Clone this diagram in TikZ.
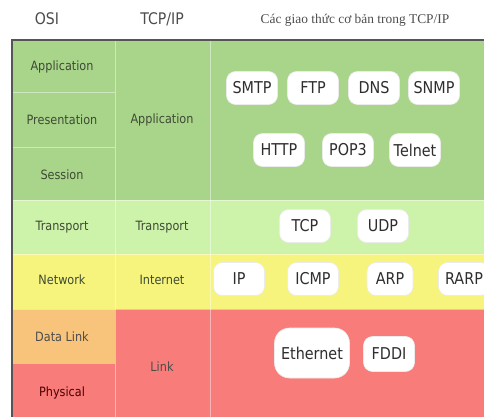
\documentclass[tikz,border=0pt]{standalone}
\usepackage{fontspec}
\newfontfamily\cellfont[FakeStretch=0.88]{DejaVu Sans}
\newfontfamily\titlefont{Liberation Serif}
\definecolor{appgreen}{HTML}{A9D58B}
\definecolor{trgreen}{HTML}{CDF2AA}
\definecolor{netyellow}{HTML}{F6F47C}
\definecolor{dlorange}{HTML}{F8C47B}
\definecolor{linkred}{HTML}{F87C79}
\definecolor{frame}{HTML}{555555}
\definecolor{celltext}{HTML}{3E4A34}
\definecolor{pilltext}{HTML}{2E2E2E}
\tikzset{
  header/.style={font=\cellfont\fontsize{16}{18}\selectfont, text=black!70, inner sep=0},
  cell/.style={font=\cellfont\fontsize{12.8}{14}\selectfont, text=celltext, inner sep=0},
  pill/.style={fill=white, draw=black!8, line width=0.6pt, rounded corners=9pt,
    minimum width=51pt, minimum height=33pt, inner sep=0,
    font=\cellfont\fontsize{16.3}{18}\selectfont, text=pilltext},
  sep/.style={draw=white, draw opacity=0.45, line width=1pt},
}
\begin{document}
\begin{tikzpicture}[x=1pt, y=-1pt]
\useasboundingbox (0,0) rectangle (484,417);
% layer bands
\fill[appgreen] (12,40) rectangle (484,200);
\fill[trgreen] (12,200) rectangle (484,254);
\fill[netyellow] (12,254) rectangle (484,309);
\fill[dlorange] (12,309) rectangle (115,363);
\fill[linkred] (12,363) rectangle (115,417);
\fill[linkred] (115,309) rectangle (484,417);
% cell separators
\draw[sep] (115,40) -- (115,417);
\draw[sep] (210,40) -- (210,417);
\draw[sep] (12,93) -- (115,93);
\draw[sep] (12,147) -- (115,147);
\draw[sep] (12,200) -- (484,200);
\draw[sep] (12,254) -- (484,254);
\draw[sep] (12,309) -- (484,309);
\draw[sep] (12,363) -- (115,363);
% outer frame
\draw[frame, line width=2pt] (12,417) -- (12,40) -- (484,40);
% column headings
\node[header] (hosi) at (47,19) {OSI};
\node[header] (htcp) at (162,19) {TCP/IP};
\node[inner sep=0, text=black!70, font=\titlefont\fontsize{13.4}{15}\selectfont] (hproto) at (355,20) {Các giao thức cơ bản trong TCP/IP};
% OSI layers
\node[cell] (osiapp) at (62,67) {Application};
\node[cell] (osipres) at (62,120) {Presentation};
\node[cell] (osises) at (62,175) {Session};
\node[cell] (ositr) at (62,227) {Transport};
\node[cell] (osinet) at (62,280) {Network};
\node[cell, text=black!70] (osidl) at (62,337) {Data Link};
\node[cell, text=black!70!red] (osiphy) at (62,393) {Physical};
% TCP/IP layers
\node[cell] (tapp) at (162,120) {Application};
\node[cell] (ttr) at (162,227) {Transport};
\node[cell] (tnet) at (162,280) {Internet};
\node[cell, text=black!70] (tlink) at (162,367) {Link};
% protocols
\node[pill] (smtp) at (252,88) {SMTP};
\node[pill] (ftp) at (313,88) {FTP};
\node[pill] (dns) at (374,88) {DNS};
\node[pill] (snmp) at (434,88) {SNMP};
\node[pill] (http) at (279,150) {HTTP};
\node[pill] (pop) at (348,150) {POP3};
\node[pill] (telnet) at (415,150) {Telnet};
\node[pill] (tcp) at (305,226) {TCP};
\node[pill] (udp) at (383,226) {UDP};
\node[pill] (ip) at (239,279) {IP};
\node[pill] (icmp) at (313,279) {ICMP};
\node[pill, minimum width=46pt] (arp) at (390,279) {ARP};
\node[pill] (rarp) at (464,279) {RARP};
\node[pill, minimum width=75pt, minimum height=50pt, rounded corners=15pt] (eth) at (312,353) {Ethernet};
\node[pill, minimum height=35pt] (fddi) at (389,354) {FDDI};
\end{tikzpicture}
\end{document}
